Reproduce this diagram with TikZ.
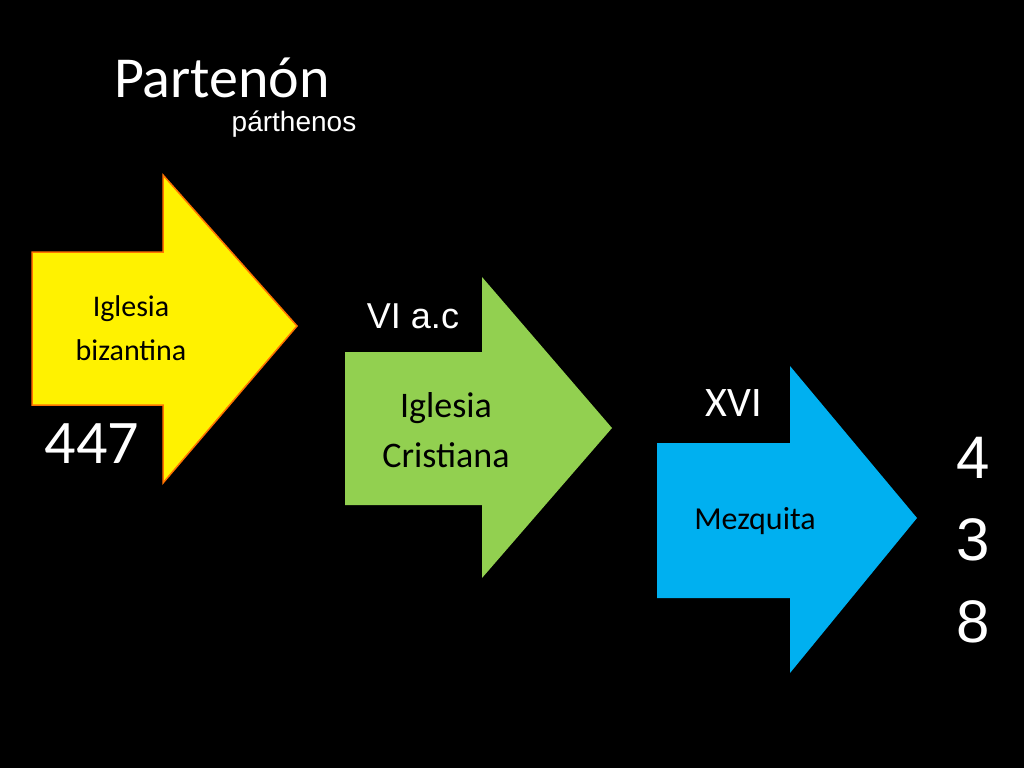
\documentclass[tikz,border=0pt]{standalone}
\usepackage{fontspec}
\setmainfont{Carlito}
\newfontfamily\arialf{Liberation Sans}
\begin{document}
\begin{tikzpicture}[x=1pt,y=-1pt,
  lbl/.style={text=white,inner sep=0pt,align=center},
  dk/.style={text=black,inner sep=0pt,align=center}]
\useasboundingbox[fill=black] (0,0) rectangle (1024,768);
\draw[fill=yellow,draw=orange!90!red,line width=1.5pt] (32,252)--(163,252)--(163,175)--(297,326)--(163,483)--(163,405)--(32,405)--cycle;
\fill[green!55!black!30!lime!80!yellow,fill={rgb,255:red,146;green,208;blue,80}] (345,352)--(482,352)--(482,277)--(612,428)--(482,578)--(482,505)--(345,505)--cycle;
\fill[fill={rgb,255:red,0;green,176;blue,240}] (657,443)--(790,443)--(790,366)--(917,518)--(790,673)--(790,598)--(657,598)--cycle;
\node[lbl,font=\fontsize{58}{60}\selectfont] (t) at (222,78) {Partenón};
\node[lbl,font=\arialf\fontsize{28}{30}\selectfont] (p) at (294,124) {párthenos};
\node[dk,font=\fontsize{30}{44}\selectfont] (ib) at (131,328) {Iglesia\\bizantina};
\node[lbl,font=\fontsize{62}{64}\selectfont] (n447) at (92,444) {447};
\node[lbl,font=\arialf\fontsize{36}{38}\selectfont] (vi) at (413,316) {VI a.c};
\node[dk,font=\fontsize{36}{50}\selectfont] (ic) at (446,430) {Iglesia\\Cristiana};
\node[lbl,font=\fontsize{42}{44}\selectfont] (xvi) at (734,403) {XVI};
\node[dk,font=\fontsize{32}{34}\selectfont] (mz) at (755,521) {Mezquita};
\node[lbl,font=\arialf\fontsize{60}{82}\selectfont] (n438) at (973,540) {4\\3\\8};
\end{tikzpicture}
\end{document}
